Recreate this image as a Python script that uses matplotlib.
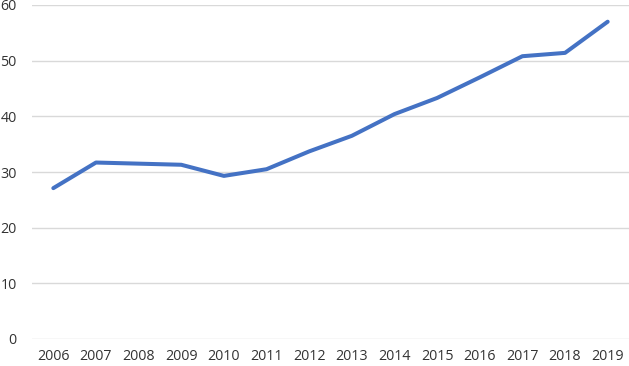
import matplotlib.pyplot as plt

# datos
years = ["2006", "2007", "2008", "2009", "2010", "2011", "2012",
         "2013", "2014", "2015", "2016", "2017", "2018", "2019"]
values = [27.1, 31.7, 31.5, 31.3, 29.3, 30.5, 33.7,
          36.5, 40.4, 43.3, 47.0, 50.8, 51.4, 57.0]
yticks = [0, 10, 20, 30, 40, 50, 60]

plt.rcParams['font.family'] = ['Open Sans', 'DejaVu Sans']

fig = plt.figure(figsize=(6.29, 3.66), dpi=100)
ax = fig.add_axes([32/629, 27/366, 1 - 32/629, 334/366])

x = list(range(len(years)))
ax.plot(x, values, color='#4472C4', lw=2.9, solid_capstyle='round',
        solid_joinstyle='round')

ax.set_xlim(-0.5, len(years) - 0.5)
ax.set_ylim(0, 60)
ax.set_yticks(yticks)
ax.set_xticks(x)
ax.set_xticklabels(years)

ax.grid(axis='y', color='#D9D9D9', lw=1)
ax.set_axisbelow(True)
for s in ax.spines.values():
    s.set_visible(False)
ax.tick_params(length=0, labelsize=10.3, colors='#333333')
ax.tick_params(axis='y', pad=11)
ax.tick_params(axis='x', pad=7)

fig.savefig('out.png', dpi=100)
